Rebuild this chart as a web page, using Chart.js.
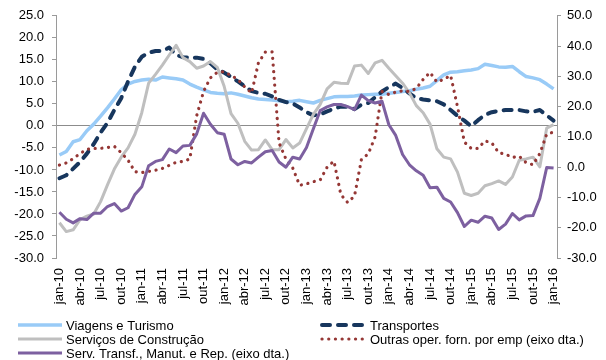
<!DOCTYPE html>
<html>
<head>
<meta charset="utf-8">
<script src="https://cdn.jsdelivr.net/npm/chart.js@4"></script>
<style>
  html, body { margin: 0; padding: 0; background: #fff; }
  #wrap { width: 606px; height: 360px; position: relative; }
</style>
</head>
<body>
<div id="wrap"><canvas id="chart"></canvas></div>
<script>
// ─── Data ─────────────────────────────────────────────
const MONTHS = ['jan', 'fev', 'mar', 'abr', 'mai', 'jun', 'jul', 'ago', 'set', 'out', 'nov', 'dez']
const YEARS  = ['10', '11', '12', '13', '14', '15', '16']

// jan-10 .. jan-16, monthly
const labels = []
YEARS.forEach((y, yi) => {
  MONTHS.forEach((m, mi) => {
    if (yi === YEARS.length - 1 && mi > 0) return
    labels.push(`${m}-${y}`)
  })
})

const LEFT_TICKS  = [25, 20, 15, 10, 5, 0, -5, -10, -15, -20, -25, -30]
const RIGHT_TICKS = [50, 40, 30, 20, 10, 0, -10, -20, -30]

// left axis
const viagens = [
  -6.6, -5.8, -3.6, -3.1, -1.1, 0.4, 2.2, 4.1, 6.1, 8.2,
  9.5, 10.1, 10.4, 10.6, 10.4, 11.1, 10.9, 10.7, 10.4, 9.5,
  8.8, 8.2, 7.6, 7.4, 7.3, 7.5, 7.2, 6.8, 6.4, 6.1,
  6.0, 5.9, 5.7, 5.5, 5.6, 5.8, 5.5, 5.2, 5.8, 6.2,
  6.6, 6.7, 6.7, 6.8, 7.0, 7.1, 7.2, 7.2, 7.4, 7.6,
  7.8, 8.0, 8.3, 8.6, 9.0, 10.3, 11.6, 12.2, 12.3, 12.5,
  12.7, 13.0, 14.0, 13.7, 13.4, 13.3, 13.5, 12.3, 11.2, 10.9,
  10.5, 9.5, 8.4
]
const transportes = [
  -11.9, -11.2, -9.7, -8.2, -6.3, -4.1, -1.5, 0.7, 3.6, 6.3,
  10.1, 13.4, 15.7, 16.6, 17.0, 17.0, 17.8, 16.1, 15.6, 15.5,
  15.5, 15.2, 14.2, 12.8, 12.1, 11.1, 10.1, 9.0, 7.9, 7.5,
  7.3, 6.7, 5.9, 5.4, 5.1, 4.2, 3.1, 2.4, 2.6, 3.3,
  3.9, 4.4, 4.3, 3.8, 4.8, 5.2, 6.5, 7.8, 8.8, 9.6,
  8.6, 7.4, 6.3, 6.0, 5.8, 5.6, 4.9, 3.6, 2.3, 1.2,
  -0.1, 1.3, 2.5, 3.1, 3.4, 3.6, 3.6, 3.6, 3.3, 3.2,
  3.6, 2.4, 1.2
]
const construcao = [
  -22.0, -24.0, -23.6, -21.3, -20.5, -20.0, -17.2, -13.4, -9.8, -7.1,
  -5.0, -1.9, 3.0, 9.7, 11.7, 13.8, 16.1, 18.3, 15.5, 14.6,
  13.1, 13.6, 14.6, 13.3, 9.0, 2.8, 0.6, -3.5, -5.5, -5.4,
  -3.2, -5.4, -5.4, -3.1, -5.0, -3.9, -0.6, 2.6, 4.9, 8.4,
  9.9, 9.7, 9.6, 13.6, 13.8, 11.9, 14.3, 14.9, 13.1, 11.4,
  9.7, 7.5, 4.6, 3.0, 0.4, -5.2, -7.1, -7.5, -10.5, -15.3,
  -15.8, -15.3, -13.6, -13.1, -12.5, -13.3, -11.6, -7.8, -7.5, -7.1,
  -9.3, -0.5, 0.3
]

// right axis (eixo dta.)
const outrasOper = [
  0.7, 1.4, 2.8, 4.5, 5.9, 6.2, 6.2, 6.5, 6.9, 4.8,
  2.3, -1.5, -1.8, -1.4, -1.0, -0.4, 0.6, 1.6, 1.9, 2.7,
  17.0, 25.0, 29.5, 31.3, 31.5, 30.3, 29.0, 26.5, 24.5, 34.5,
  38.0, 38.1, 8.0, 2.7, -0.3, -6.0, -5.5, -4.8, -4.2, 0.0,
  2.0, -9.0, -11.7, -9.5, 2.5, 4.4, 10.0, 25.0, 24.0, 24.8,
  25.2, 25.0, 26.0, 29.0, 31.3, 28.1, 29.0, 30.3, 20.0, 8.3,
  6.2, 6.2, 8.7, 8.0, 4.8, 4.3, 3.2, 3.6, 1.5, 0.8,
  4.5, 10.9, 11.6
]
const servTransf = [
  -14.9, -17.2, -18.4, -17.0, -17.3, -15.2, -15.2, -13.0, -12.0, -14.5,
  -13.4, -9.0, -6.5, 0.5, 1.9, 2.5, 6.0, 4.8, 7.0, 7.2,
  11.0, 17.8, 14.2, 11.4, 10.9, 2.7, 0.8, 1.9, 1.4, 3.3,
  5.1, 5.5, 1.7, 0.0, 3.3, 2.7, 6.5, 12.7, 18.7, 19.9,
  20.7, 20.7, 20.0, 19.0, 23.8, 22.0, 21.2, 21.8, 14.0, 10.5,
  4.2, 0.8, -1.2, -2.7, -6.8, -6.6, -10.3, -11.5, -15.0, -19.6,
  -17.5, -18.2, -16.2, -16.8, -20.6, -18.8, -15.3, -17.4, -16.1, -16.0,
  -10.3, -0.1, -0.3
]

// ─── Style ────────────────────────────────────────────
const FONT      = '"Liberation Sans", Arial, sans-serif'
const AXIS_GREY = '#9a9a9a'

Chart.defaults.font.family = FONT
Chart.defaults.font.size   = 13
Chart.defaults.color       = '#000'

// ─── Legend (two columns, drawn under the axis labels) ─
const gridLegend = {
  id: 'gridLegend',
  afterDraw(chart) {
    const ctx   = chart.ctx
    const slots = [[18, 325], [322, 325], [18, 339], [322, 339], [18, 353]]
    ctx.save()
    ctx.font = `13px ${FONT}`
    ctx.textBaseline = 'middle'
    chart.data.datasets.forEach((ds, i) => {
      const [x, y] = slots[i]
      ctx.beginPath()
      ctx.strokeStyle = ds.borderColor
      ctx.lineWidth   = ds.borderWidth
      ctx.lineCap     = ds.borderCapStyle || 'butt'
      ctx.setLineDash(ds.borderDash || [])
      ctx.moveTo(x, y)
      ctx.lineTo(x + 44, y)
      ctx.stroke()
      ctx.setLineDash([])
      ctx.fillStyle = '#000'
      ctx.fillText(ds.label, x + 48, y + 1)
    })
    ctx.restore()
  }
}

// ─── Chart ────────────────────────────────────────────
const line = (label, data, axis, color, width, extra, order) => Object.assign({
  label, data, yAxisID: axis,
  borderColor: color, backgroundColor: color,
  borderWidth: width, pointRadius: 0, tension: 0, fill: false,
  borderJoinStyle: 'round', order
}, extra)

new Chart(document.getElementById('chart'), {
  type: 'line',
  data: {
    labels,
    datasets: [
      line('Viagens e Turismo', viagens, 'y', '#99cbf7', 3.5, {}, 5),
      line('Transportes', transportes, 'y', '#17365d', 4, { borderDash: [8, 8], borderCapStyle: 'round' }, 4),
      line('Serviços de Construção', construcao, 'y', '#bfbfbf', 3, {}, 3),
      line('Outras oper. forn. por emp (eixo dta.)', outrasOper, 'y2', '#953735', 3.2, { borderDash: [0.1, 6.6], borderCapStyle: 'round' }, 2),
      line('Serv. Transf., Manut. e Rep. (eixo dta.)', servTransf, 'y2', '#7d60a0', 3, {}, 1)
    ]
  },
  options: {
    responsive: true,
    maintainAspectRatio: false,
    animation: false,
    layout: { padding: { top: 10, bottom: 50, left: 0, right: 0 } },
    plugins: { legend: { display: false }, tooltip: { enabled: false } },
    scales: {
      x: {
        offset: true,
        grid: { display: false, drawTicks: false },
        border: { display: false },
        ticks: {
          autoSkip: false, minRotation: 90, maxRotation: 90, padding: 10,
          callback: (v, i) => i % 3 === 0 ? labels[i] : ''
        },
        afterFit: s => { s.height = 52 }
      },
      y: {
        position: 'left',
        min: -30, max: 25,
        afterBuildTicks: s => { s.ticks = LEFT_TICKS.map(value => ({ value })) },
        ticks: { padding: 8, callback: v => v.toFixed(1) },
        grid: {
          color: c => c.tick && c.tick.value === 0 ? '#8c8c8c' : 'rgba(0,0,0,0)',
          tickColor: AXIS_GREY, tickLength: 4, lineWidth: 1
        },
        border: { display: true, color: AXIS_GREY },
        afterFit: s => { s.width = 56 }
      },
      y2: {
        position: 'right',
        min: -30, max: 50,
        afterBuildTicks: s => { s.ticks = RIGHT_TICKS.map(value => ({ value })) },
        ticks: { padding: 6, callback: v => v.toFixed(1) },
        grid: { drawOnChartArea: false, tickColor: AXIS_GREY, tickLength: 4 },
        border: { display: true, color: AXIS_GREY },
        afterFit: s => { s.width = 49 }
      }
    }
  },
  plugins: [gridLegend]
})
</script>
</body>
</html>
